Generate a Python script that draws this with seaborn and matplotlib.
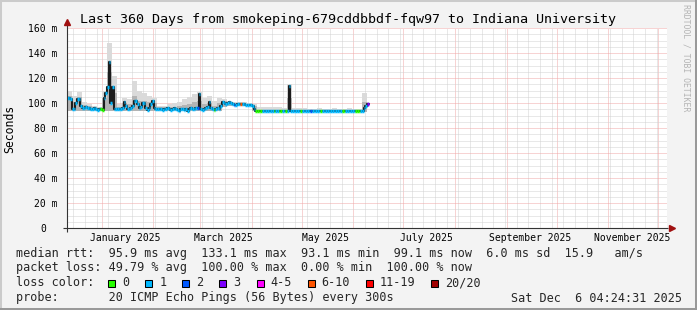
import numpy as np
import pandas as pd
import matplotlib
matplotlib.use("Agg")
import matplotlib.pyplot as plt
import matplotlib.dates as mdates
from matplotlib.patches import Rectangle
from matplotlib.lines import Line2D
from matplotlib.ticker import MultipleLocator, NullFormatter
from matplotlib.transforms import ScaledTranslation
import seaborn as sns

# ---------------- data ----------------
start = pd.Timestamp("2024-12-11 04:24:31")
end = pd.Timestamp("2025-12-06 04:24:31")

# daily median RTT (ms), one value per day from start
median_ms = [
    104, 104, 103, 95, 95, 100, 103, 103, 98, 96,
    96, 97, 96, 96, 95, 95, 96, 95, 94.5, 95,
    95, 94.5, 104, 108, 113, 133, 100, 113, 95, 95,
    95, 95, 95, 96, 101, 98, 95.5, 95.5, 96, 98,
    101.5, 101.5, 99, 96, 97, 100, 100, 96, 94.5, 96,
    99, 101.5, 96, 95, 95, 95.5, 95, 94.5, 95, 95,
    96, 95, 94.5, 95, 96, 95, 94.5, 94, 95, 95,
    94.5, 95, 94, 95, 96, 95, 95, 96, 96, 107.5,
    95, 94.5, 95, 96, 97, 101, 96, 95, 94.5, 95,
    96, 95, 98, 101, 100, 99, 100, 101, 100, 99,
    98.5, 98.5, 99, 99, 99, 99, 99, 98.5, 98.5, 98.5,
    98.5, 98, 95, 94, 93.5, 93.5, 93.5, 93.8, 93.5, 93.5,
    93.5, 93.8, 93.5, 93.5, 93.5, 93.8, 93.5, 93.5, 93.5, 93.7,
    93.5, 93.5, 93.8, 113.5, 93.8, 93.5, 93.5, 93.5, 93.6, 93.5,
    93.5, 93.4, 93.5, 93.6, 93.5, 93.5, 93.4, 93.5, 93.5, 93.6,
    93.5, 93.5, 93.4, 93.5, 93.5, 93.6, 93.5, 93.5, 93.4, 93.5,
    93.5, 93.6, 93.5, 93.4, 93.5, 93.5, 93.6, 93.5, 93.5, 93.4,
    93.5, 93.5, 93.6, 93.5, 93.5, 93.6, 93.5, 94, 96, 97.5,
    99,
]

# lost pings (of 20) per day
loss_count = [
    1, 1, 1, 1, 1, 1, 1, 1, 1, 1, 1, 1, 1, 1, 1, 1, 1, 1, 1, 1,
    0, 0, 1, 1, 1, 1, 1, 1, 1, 1, 1, 1, 1, 1, 1, 1, 1, 1, 1, 1,
    1, 1, 1, 1, 1, 1, 1, 1, 1, 1, 1, 1, 1, 1, 1, 1, 1, 1, 1, 1,
    1, 1, 1, 1, 1, 1, 1, 1, 1, 1, 1, 1, 1, 1, 1, 1, 1, 1, 2, 1,
    1, 1, 1, 1, 1, 1, 1, 1, 0, 1, 1, 1, 1, 1, 1, 1, 1, 1, 1, 1,
    2, 1, 1, 1, 8, 1, 1, 1, 1, 1, 1, 1, 1, 0, 0, 0, 0, 1, 1, 1,
    1, 1, 1, 1, 0, 1, 1, 0, 0, 1, 1, 0, 1, 1, 1, 1, 1, 1, 1, 1,
    0, 1, 1, 1, 1, 1, 2, 1, 1, 1, 1, 1, 0, 1, 1, 1, 1, 1, 1, 1,
    1, 1, 1, 1, 1, 0, 0, 1, 1, 1, 1, 1, 1, 0, 0, 0, 1, 1, 1, 1,
    3,
]

# smoke (ping spread), one value per 3 days
smoke_step_days = 3
smoke_hi = [
    110, 106, 109, 101, 99, 98, 97, 110, 148, 122,
    99, 104, 103, 118, 110, 108, 106, 104, 98, 98,
    99, 100, 101, 103, 105, 107, 109, 104, 106, 102,
    104, 103, 102, 101, 100.5, 100.5, 100, 99, 97, 96.5,
    97, 96.5, 96.5, 96, 115, 96, 96, 96, 95.5, 95.5,
    96, 95.5, 95.5, 96, 95.5, 95.5, 96, 95.5, 95.5, 108, 101,
]
smoke_mid = [
    106, 101, 105, 98.5, 97.5, 96.5, 96, 104, 125, 108,
    96.5, 100, 99, 106, 102, 102, 101, 100, 96.5, 96.5,
    97, 97, 97.5, 98.5, 99.5, 100.5, 102, 99, 100, 98,
    100, 101.5, 101, 100, 99.5, 99.5, 99.5, 98, 94.5, 94.5,
    94.5, 94.5, 94.5, 94.5, 104, 94.5, 94.5, 94.5, 94.5, 94.5,
    94.5, 94.5, 94.5, 94.5, 94.5, 94.5, 94.5, 94.5, 94.5, 101, 100,
]
smoke_lo = [
    93.5, 93.5, 93.5, 93.5, 93.5, 93.5, 93.5, 93.5, 93.5, 93.5,
    93.5, 93.5, 93.5, 93.5, 93.5, 93.5, 93.5, 93.5, 93.5, 93.5,
    93.5, 93.5, 93.5, 93.5, 93.5, 93.5, 93.5, 93.5, 93.5, 93.5,
    94, 97, 97.5, 97.5, 97.5, 97.5, 97.5, 93.5, 92.8, 92.8,
    92.8, 92.8, 92.8, 92.8, 92.8, 92.8, 92.8, 92.8, 92.8, 92.8,
    92.8, 92.8, 92.8, 92.8, 92.8, 92.8, 92.8, 92.8, 92.8, 92.8, 97,
]

y_ticks = [0, 20, 40, 60, 80, 100, 120, 140, 160]
y_tick_labels = ["0", "20 m", "40 m", "60 m", "80 m", "100 m", "120 m", "140 m", "160 m"]
month_labels = ["January 2025", "March 2025", "May 2025", "July 2025",
                "September 2025", "November 2025"]
month_label_dates = ["2025-01-15", "2025-03-15", "2025-05-15", "2025-07-15",
                     "2025-09-15", "2025-11-15"]

loss_legend_labels = ["0", "1", "2", "3", "4-5", "6-10", "11-19", "20/20"]
loss_legend_colors = ["#26ff00", "#00b8ff", "#0059ff", "#7e00ff",
                      "#ff00ff", "#ff5500", "#ff0000", "#a10000"]

title = "Last 360 Days from smokeping-679cddbbdf-fqw97 to Indiana University"
stat_rtt = "median rtt:  95.9 ms avg  133.1 ms max  93.1 ms min  99.1 ms now  6.0 ms sd  15.9   am/s"
stat_loss = "packet loss: 49.79 % avg  100.00 % max  0.00 % min  100.00 % now"
probe_text = "probe:       20 ICMP Echo Pings (56 Bytes) every 300s"
stamp_text = "Sat Dec  6 04:24:31 2025"


def loss_color(n):
    if n <= 3:
        return loss_legend_colors[n]
    if n <= 5:
        return loss_legend_colors[4]
    if n <= 10:
        return loss_legend_colors[5]
    if n <= 19:
        return loss_legend_colors[6]
    return loss_legend_colors[7]


# ---------------- figure ----------------
W, H = 697, 310
sns.set_theme(style="white")
plt.rcParams["font.family"] = ["DejaVu Sans Mono"]
plt.rcParams["axes.unicode_minus"] = False

BG = "#f3f3f3"
fig = plt.figure(figsize=(W / 100, H / 100), dpi=100, facecolor=BG)
ax = fig.add_axes([67 / W, 82 / H, 600 / W, 200 / H])
ax.set_facecolor("white")

n = len(median_ms)
edges = mdates.date2num([(start + pd.Timedelta(days=i)).to_pydatetime() for i in range(n + 1)])

ns = len(smoke_hi)
sedges = [(start + pd.Timedelta(days=smoke_step_days * i)).to_pydatetime() for i in range(ns)]
sedges.append((start + pd.Timedelta(days=n)).to_pydatetime())
sedges = mdates.date2num(sedges)

hi_ext = list(smoke_hi) + [smoke_hi[-1]]
mid_ext = list(smoke_mid) + [smoke_mid[-1]]
lo_ext = list(smoke_lo) + [smoke_lo[-1]]

# smoke
ax.fill_between(sedges, lo_ext, hi_ext, step="post", color="#dadada", lw=0, zorder=3)
ax.fill_between(sedges, lo_ext, mid_ext, step="post", color="#b4b4b4", lw=0, zorder=3.1)

# dark connectors (smoke core) via seaborn
step_y = list(median_ms) + [median_ms[-1]]
sns.lineplot(x=edges, y=step_y, drawstyle="steps-post", color="#1c1c1c",
             lw=1.5, ax=ax, estimator=None, sort=False, legend=False, zorder=3.5)

# median coloured by loss
cols = [loss_color(c) for c in loss_count]
ax.hlines(median_ms, edges[:-1], edges[1:], colors=cols, lw=2.5,
          capstyle="butt", zorder=4)

# axes limits and grid
x0 = mdates.date2num(start.to_pydatetime())
x1 = mdates.date2num(end.to_pydatetime())
ax.set_xlim(x0, x1)
ax.set_ylim(0, 160)
ax.set_xlabel("")
ax.set_ylabel("")

ax.xaxis.set_major_locator(mdates.MonthLocator())
ax.xaxis.set_minor_locator(mdates.WeekdayLocator(byweekday=mdates.SU))
ax.xaxis.set_major_formatter(NullFormatter())
ax.xaxis.set_minor_formatter(NullFormatter())
ax.set_yticks(y_ticks)
ax.set_yticklabels(y_tick_labels)
ax.yaxis.set_minor_locator(MultipleLocator(5))

ax.set_axisbelow(True)
ax.grid(which="minor", color="#d2d2d2", linestyle=(0, (1, 1)), lw=0.72, zorder=0.5)
ax.grid(which="major", color="#f0a8a8", linestyle=(0, (1, 1)), lw=0.72, zorder=0.6)

ax.tick_params(axis="both", which="major", direction="out", length=2, width=0.7,
               color="#333333", labelsize=7.05, labelcolor="black")
ax.tick_params(axis="y", which="major", pad=4.7)
ax.tick_params(axis="both", which="minor", length=0)
ax.tick_params(axis="x", which="major", labelbottom=False)
for sp in ax.spines.values():
    sp.set_visible(False)

# shift the "0" label like rrdtool's fixed-width formatting
lbl0 = ax.get_yticklabels()[0]
lbl0.set_transform(lbl0.get_transform() + ScaledTranslation(-11.8 / 100, 0, fig.dpi_scale_trans))

# month labels
for lab, d in zip(month_labels, month_label_dates):
    xd = mdates.date2num(pd.Timestamp(d).to_pydatetime())
    ax.text(xd, -10 / 200, lab, transform=ax.get_xaxis_transform(), ha="center",
            va="center", fontsize=7.05, color="black", clip_on=False)

# axis lines with arrows
ax.plot([-4 / 600, 1.002], [0, 0], transform=ax.transAxes, color="#333333",
        lw=0.8, clip_on=False, zorder=5, solid_capstyle="butt")
ax.plot([0, 0], [-4 / 200, 1.02], transform=ax.transAxes, color="#333333",
        lw=0.8, clip_on=False, zorder=5, solid_capstyle="butt")
ax.plot([1.0075], [0], marker=">", ms=4.2, color="#a01010", mec="#a01010",
        transform=ax.transAxes, clip_on=False, zorder=6)
ax.plot([0], [1.0325], marker="^", ms=4.2, color="#a01010", mec="#a01010",
        transform=ax.transAxes, clip_on=False, zorder=6)

# ---------------- texts ----------------
def fx(px):
    return px / W


def fy(py):
    return 1 - py / H


fig.text(0.5, fy(19), title, ha="center", va="center", fontsize=9.6, color="black")
fig.text(fx(10), fy(128.5), "Seconds", rotation=90, ha="center", va="center",
         fontsize=8.3, color="black")
fig.text(fx(686), fy(58), "RRDTOOL / TOBI OETIKER", rotation=270, ha="center",
         va="center", fontsize=5.85, color="#b4b4b4")

LFS = 8.45
CW = 7.06
fig.text(fx(16), fy(253), stat_rtt, ha="left", va="center", fontsize=LFS)
fig.text(fx(16), fy(268), stat_loss, ha="left", va="center", fontsize=LFS)
fig.text(fx(16), fy(283), "loss color:", ha="left", va="center", fontsize=LFS)
fig.text(fx(16), fy(298), probe_text, ha="left", va="center", fontsize=LFS)
fig.text(fx(682), fy(298), stamp_text, ha="right", va="center", fontsize=LFS)

bx = 108.3
for lab, col in zip(loss_legend_labels, loss_legend_colors):
    fig.add_artist(Rectangle((fx(bx), fy(286.5)), 7 / W, 7 / H, transform=fig.transFigure,
                             facecolor=col, edgecolor="black", lw=0.75))
    fig.text(fx(bx + 14), fy(283), lab, ha="left", va="center", fontsize=LFS)
    bx += (len(lab) + 4.25) * CW

# 3D border
fig.add_artist(Line2D([0, 1], [1 - 1 / H, 1 - 1 / H], transform=fig.transFigure,
                      color="#cbcbcb", lw=1.45))
fig.add_artist(Line2D([1 / W, 1 / W], [0, 1], transform=fig.transFigure,
                      color="#cbcbcb", lw=1.45))
fig.add_artist(Line2D([0, 1], [1 / H, 1 / H], transform=fig.transFigure,
                      color="#999999", lw=1.45))
fig.add_artist(Line2D([1 - 1 / W, 1 - 1 / W], [0, 1], transform=fig.transFigure,
                      color="#999999", lw=1.45))

fig.savefig("out.png", dpi=100, facecolor=BG)
